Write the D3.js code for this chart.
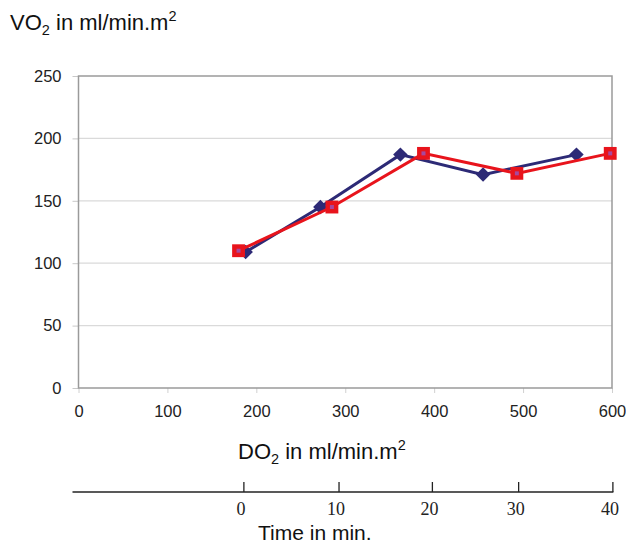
<!DOCTYPE html>
<html>
<head>
<meta charset="utf-8">
<script src="https://cdn.jsdelivr.net/npm/d3@7"></script>
<style>
  body { margin: 0; background: #fff; }
  svg { display: block; }
</style>
</head>
<body>
<div id="chart"></div>
<script>
// Data
var seriesBlueDo2 = [188, 272, 362, 455, 560];
var seriesBlueVo2 = [109, 145, 187, 171, 187];
var seriesRedDo2  = [180, 285, 388, 493, 598];
var seriesRedVo2  = [110, 145, 188, 172, 188];

var xTicks = [0, 100, 200, 300, 400, 500, 600];
var yTicks = [0, 50, 100, 150, 200, 250];

// secondary time axis, and the DO2 value each time tick sits under
var timeTicks = [0, 10, 20, 30, 40];
var timeAtDo2 = [186, 293, 398, 495, 601];

// Size of the drawing
var svgWidth = 626;
var svgHeight = 546;
var plotLeft = 78.5, plotRight = 612, plotTop = 76, plotBottom = 388;

var sans = "'Liberation Sans', Arial, sans-serif";
var serif = "'Liberation Serif', 'Times New Roman', serif";

var svg = d3.select("#chart").append("svg")
  .attr("width", svgWidth)
  .attr("height", svgHeight);

var x = d3.scaleLinear().domain([0, 600]).range([plotLeft, plotRight]);
var y = d3.scaleLinear().domain([0, 250]).range([plotBottom, plotTop]);

// Gridlines
svg.append("g").selectAll("line")
  .data(yTicks.filter(function(d) { return d > 0 && d < 250; }))
  .enter().append("line")
  .attr("x1", plotLeft).attr("x2", plotRight)
  .attr("y1", function(d) { return y(d); })
  .attr("y2", function(d) { return y(d); })
  .attr("stroke", "#dadada")
  .attr("stroke-width", 1.2);

// Y axis
var yAxis = svg.append("g")
  .attr("transform", "translate(" + plotLeft + ",0)")
  .call(d3.axisLeft(y).tickValues(yTicks).tickSize(6).tickPadding(11));
yAxis.select(".domain").remove();
yAxis.selectAll(".tick line").attr("stroke", "#c8c8c8");
yAxis.selectAll(".tick text")
  .attr("font-family", sans).attr("font-size", "16.5px").attr("fill", "#222");

// X axis
var xAxis = svg.append("g")
  .attr("transform", "translate(0," + plotBottom + ")")
  .call(d3.axisBottom(x).tickValues(xTicks).tickSize(5).tickPadding(12));
xAxis.select(".domain").remove();
xAxis.selectAll(".tick line").attr("stroke", "#d0d0d0");
xAxis.selectAll(".tick text")
  .attr("font-family", sans).attr("font-size", "16.5px").attr("fill", "#222");

// Plot frame
svg.append("rect")
  .attr("x", plotLeft).attr("y", plotTop)
  .attr("width", plotRight - plotLeft)
  .attr("height", plotBottom - plotTop)
  .attr("fill", "none")
  .attr("stroke", "#9a9a9a")
  .attr("stroke-width", 1.5);

// Series
var line = d3.line()
  .x(function(d) { return x(d[0]); })
  .y(function(d) { return y(d[1]); });

var bluePts = d3.zip(seriesBlueDo2, seriesBlueVo2);
var redPts = d3.zip(seriesRedDo2, seriesRedVo2);

svg.append("path")
  .datum(bluePts)
  .attr("d", line)
  .attr("fill", "none")
  .attr("stroke", "#2d2a76")
  .attr("stroke-width", 3);

svg.append("g").selectAll("path")
  .data(bluePts)
  .enter().append("path")
  .attr("d", d3.symbol().type(d3.symbolSquare).size(105))
  .attr("transform", function(d) { return "translate(" + x(d[0]) + "," + y(d[1]) + ") rotate(45)"; })
  .attr("fill", "#2d2a76");

svg.append("path")
  .datum(redPts)
  .attr("d", line)
  .attr("fill", "none")
  .attr("stroke", "#e8141c")
  .attr("stroke-width", 3);

var redMarks = svg.append("g").selectAll("g")
  .data(redPts)
  .enter().append("g")
  .attr("transform", function(d) { return "translate(" + x(d[0]) + "," + y(d[1]) + ")"; });
redMarks.append("path")
  .attr("d", d3.symbol().type(d3.symbolSquare).size(165))
  .attr("fill", "#e8141c");
redMarks.append("path")
  .attr("d", d3.symbol().type(d3.symbolSquare).size(16))
  .attr("fill", "#a8489e");

// Axis titles
var yTitle = svg.append("text")
  .attr("x", 10).attr("y", 30)
  .attr("font-family", sans).attr("font-size", "22px").attr("fill", "#111");
yTitle.append("tspan").text("VO");
yTitle.append("tspan").attr("font-size", "14.5px").attr("dy", 5).text("2");
yTitle.append("tspan").attr("dy", -5).text(" in ml/min.m");
yTitle.append("tspan").attr("font-size", "14.5px").attr("dy", -9).text("2");

var xTitle = svg.append("text")
  .attr("x", 238).attr("y", 459)
  .attr("font-family", sans).attr("font-size", "22px").attr("fill", "#111");
xTitle.append("tspan").text("DO");
xTitle.append("tspan").attr("font-size", "14.5px").attr("dy", 5).text("2");
xTitle.append("tspan").attr("dy", -5).text(" in ml/min.m");
xTitle.append("tspan").attr("font-size", "14.5px").attr("dy", -9).text("2");

// Time axis
var tx = d3.scaleLinear()
  .domain(timeTicks)
  .range(timeAtDo2.map(function(d) { return x(d); }));

var timeY = 492;
svg.append("line")
  .attr("x1", 72.5).attr("x2", tx(40) + 0.5)
  .attr("y1", timeY).attr("y2", timeY)
  .attr("stroke", "#222").attr("stroke-width", 1.3);

svg.append("g").selectAll("line")
  .data(timeTicks)
  .enter().append("line")
  .attr("x1", function(d) { return tx(d); })
  .attr("x2", function(d) { return tx(d); })
  .attr("y1", timeY).attr("y2", timeY - 10)
  .attr("stroke", "#222").attr("stroke-width", 1.3);

svg.append("g").selectAll("text")
  .data(timeTicks)
  .enter().append("text")
  .attr("x", function(d) { return tx(d) - 3; })
  .attr("y", 515)
  .attr("text-anchor", "middle")
  .attr("font-family", serif).attr("font-size", "18px").attr("fill", "#222")
  .text(function(d) { return d; });

svg.append("text")
  .attr("x", 258).attr("y", 540)
  .attr("font-family", sans).attr("font-size", "21px").attr("fill", "#111")
  .text("Time in min.");
</script>
</body>
</html>
